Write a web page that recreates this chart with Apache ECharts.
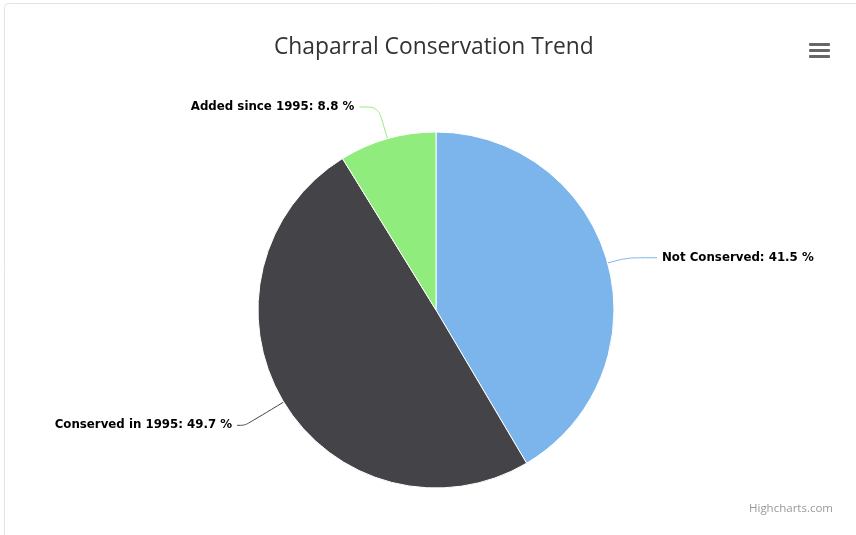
<!DOCTYPE html>
<html><head><meta charset="utf-8">
<script src="https://cdn.jsdelivr.net/npm/echarts@6/dist/echarts.min.js"></script>
<style>html,body{margin:0;padding:0;background:#fff}#c{width:856px;height:535px}</style>
</head><body><div id="c"></div>
<script>
const categories = ["Not Conserved", "Conserved in 1995", "Added since 1995"];
const values = [41.5, 49.7, 8.8];
const colors = ["#7cb5ec", "#434348", "#90ed7d"];
const titleText = "Chaparral Conservation Trend";
const lineLens = [[20, 30], [45, 8], [33, 19]];

const chart = echarts.init(document.getElementById('c'));
chart.setOption({
  animation: false,
  title: {
    text: titleText, left: 269, top: 31,
    textStyle: {fontFamily: 'Open Sans', fontSize: 22.8, fontWeight: 'normal', color: '#333'}
  },
  graphic: [
    {type: 'rect', shape: {x: 4.5, y: 3.5, width: 900, height: 600, r: 4}, style: {fill: 'none', stroke: '#e3e3e3', lineWidth: 1}, z: -1},
    {type: 'rect', shape: {x: 809, y: 43, width: 21, height: 3, r: 1}, style: {fill: '#666'}},
    {type: 'rect', shape: {x: 809, y: 49, width: 21, height: 3, r: 1}, style: {fill: '#666'}},
    {type: 'rect', shape: {x: 809, y: 55, width: 21, height: 3, r: 1}, style: {fill: '#666'}},
    {type: 'text', right: 23, top: 503, style: {text: 'Highcharts.com', font: '11.5px "Open Sans"', fill: '#999'}}
  ],
  series: [{
    type: 'pie',
    center: [436, 310],
    radius: 178,
    startAngle: 90,
    clockwise: true,
    avoidLabelOverlap: false,
    data: categories.map((n, i) => ({
      name: n, value: values[i], itemStyle: {color: colors[i]},
      labelLine: {length: lineLens[i][0], length2: lineLens[i][1]}
    })),
    itemStyle: {borderColor: '#fff', borderWidth: 1},
    label: {
      show: true, position: 'outside',
      formatter: p => p.name + ': ' + p.value.toFixed(1) + ' %',
      fontFamily: 'DejaVu Sans', fontSize: 11.8, fontWeight: 'bold', color: '#000',
      distanceToLabelLine: 5
    },
    labelLine: {show: true, smooth: 0.3, lineStyle: {width: 1}},
    emphasis: {disabled: true}
  }]
});
</script></body></html>
